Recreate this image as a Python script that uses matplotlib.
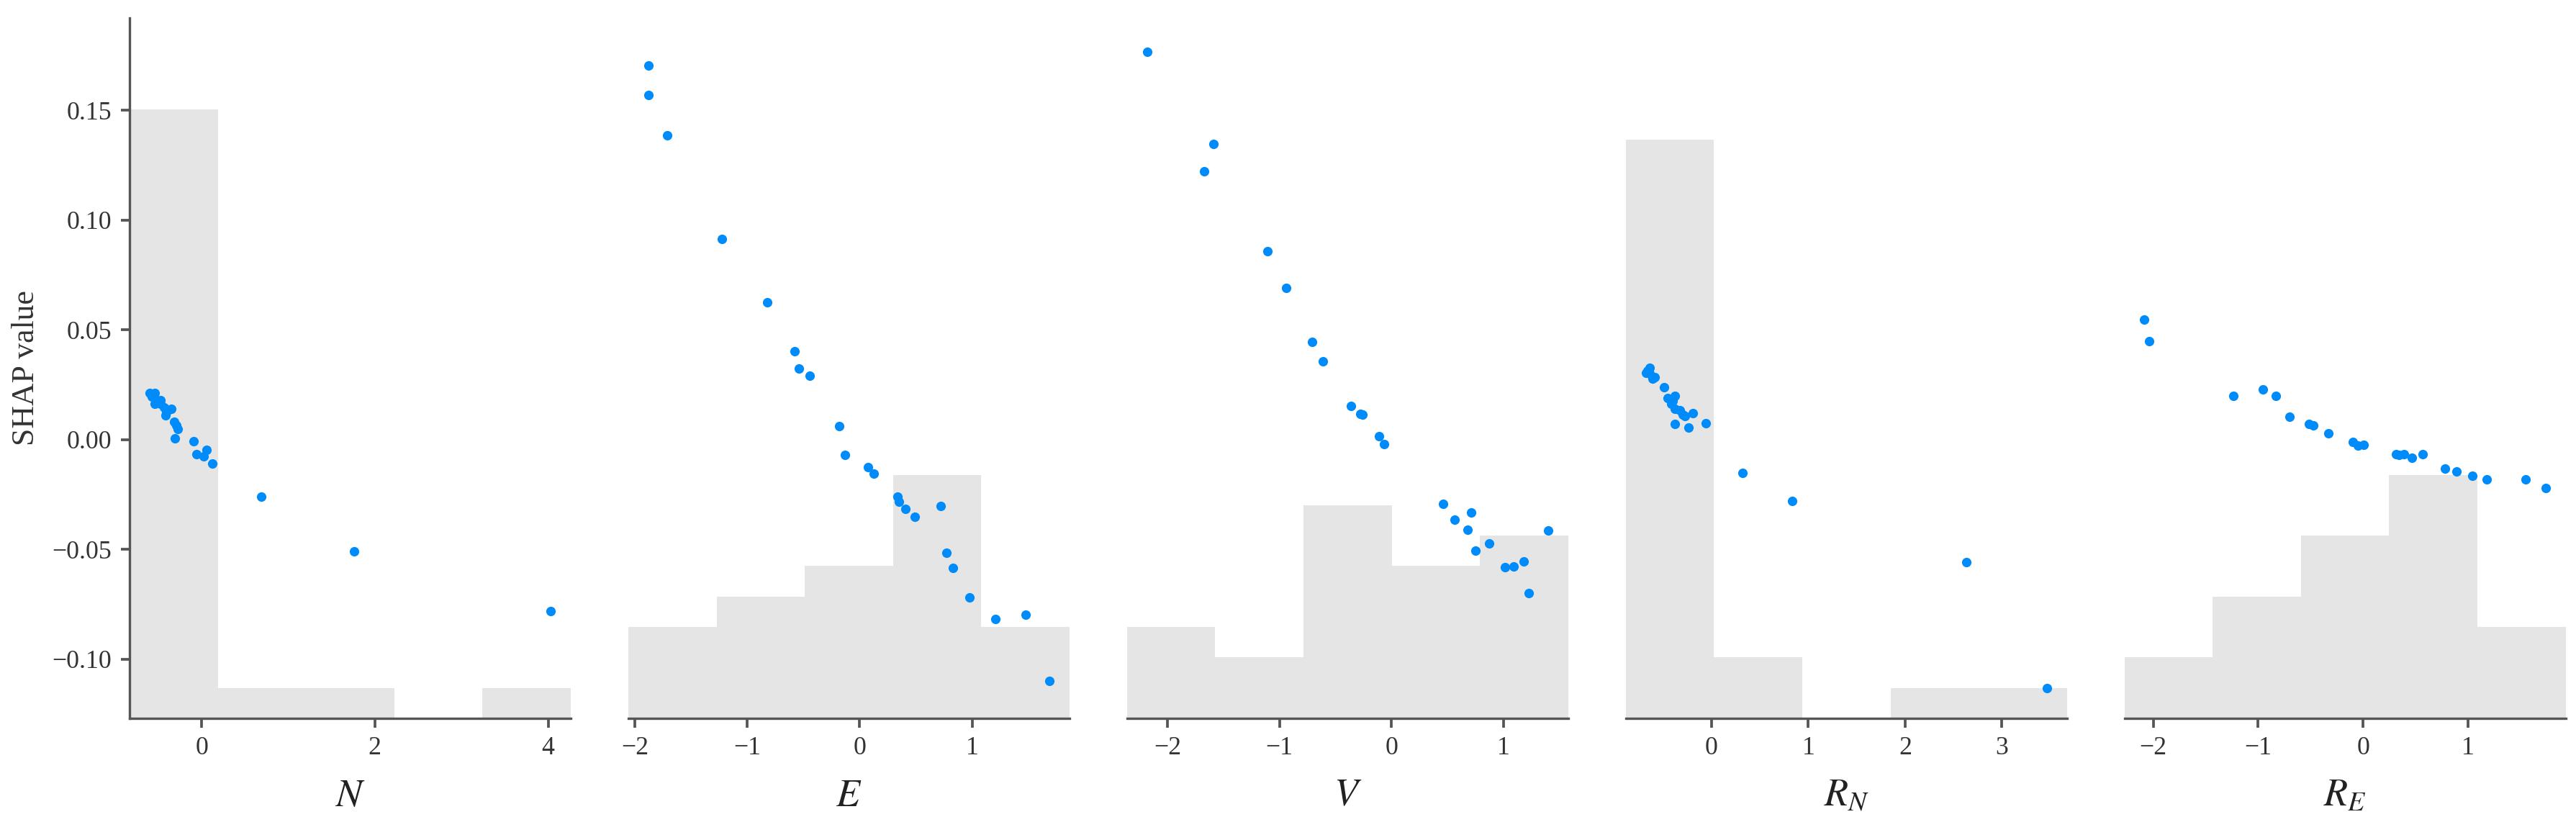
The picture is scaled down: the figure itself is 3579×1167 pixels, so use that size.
import numpy as np
import matplotlib
matplotlib.use("Agg")
import matplotlib.pyplot as plt

plt.rcParams['font.family'] = ['Liberation Serif', 'DejaVu Serif']
plt.rcParams['mathtext.fontset'] = 'stix'

# feature labels
features = ['$N$', '$E$', '$V$', '$R_N$', '$R_E$']

# feature values / SHAP values (23 samples per panel)
n_x = [-0.60, -0.543, -0.571, -0.53, -0.474, -0.543, -0.474, -0.432, -0.349, -0.404,
       -0.418, -0.32, -0.293, -0.279, -0.312, -0.095, -0.056, 0.061, 0.028, 0.125,
       0.69, 1.76, 4.03]
n_shap = [0.0211, 0.0211, 0.0195, 0.0184, 0.0179, 0.0162, 0.0162, 0.0146, 0.0140, 0.0124,
          0.0110, 0.0080, 0.0064, 0.0048, 0.0004, -0.0007, -0.0067, -0.0048, -0.0078, -0.0111,
          -0.0259, -0.0509, -0.078]

e_x = [-1.879, -1.879, -1.712, -1.224, -0.824, -0.576, -0.539, -0.445, -0.182, -0.130,
       0.073, 0.127, 0.339, 0.348, 0.409, 0.491, 0.721, 0.770, 0.830, 0.976,
       1.209, 1.473, 1.688]
e_shap = [0.1704, 0.1569, 0.1384, 0.0914, 0.0626, 0.0403, 0.0323, 0.0289, 0.0061, -0.0071,
          -0.0127, -0.0154, -0.0259, -0.0284, -0.0315, -0.0352, -0.0303, -0.0516, -0.0584, -0.0719,
          -0.0816, -0.0797, -0.1100]

v_x = [-2.182, -1.59, -1.670, -1.106, -0.943, -0.707, -0.612, -0.364, -0.275, -0.257,
       -0.112, -0.068, 0.461, 0.563, 0.711, 0.679, 1.399, 0.752, 0.872, 1.012,
       1.089, 1.182, 1.227]
v_shap = [0.1765, 0.1347, 0.1220, 0.0858, 0.0690, 0.0445, 0.0355, 0.0152, 0.0117, 0.0112,
          0.0015, -0.0020, -0.0293, -0.0364, -0.0332, -0.0411, -0.0413, -0.0507, -0.0474, -0.0581,
          -0.0578, -0.0555, -0.0699]

rn_x = [-0.636, -0.679, -0.636, -0.587, -0.612, -0.487, -0.450, -0.376, -0.413, -0.376,
        -0.327, -0.277, -0.190, -0.381, -0.240, -0.061, -0.66, -0.40, -0.30,
        0.322, 0.837, 2.635, 3.465]
rn_shap = [0.0328, 0.0304, 0.0299, 0.0284, 0.0277, 0.0237, 0.0189, 0.0200, 0.0162, 0.0140,
           0.0132, 0.0107, 0.0119, 0.0072, 0.0053, 0.0075, 0.0315, 0.0175, 0.0115,
           -0.0152, -0.0281, -0.0557, -0.1132]

re_x = [-2.083, -2.037, -1.233, -0.957, -0.828, -0.702, -0.518, -0.475, -0.334, -0.098,
        -0.052, 0.003, 0.316, 0.340, 0.387, 0.463, 0.567, 0.782, 0.887, 1.040,
        1.181, 1.549, 1.739]
re_shap = [0.0545, 0.0447, 0.0198, 0.0227, 0.0198, 0.0103, 0.0071, 0.0064, 0.0029, -0.0012,
           -0.0027, -0.0024, -0.0068, -0.0070, -0.0068, -0.0083, -0.0066, -0.0132, -0.0144, -0.0166,
           -0.0183, -0.0181, -0.0222]

xs = [n_x, e_x, v_x, rn_x, re_x]
ys = [n_shap, e_shap, v_shap, rn_shap, re_shap]

dot_color = '#008bfb'
axis_color = '#555555'

fig = plt.figure(figsize=(3579/300, 1167/300), dpi=300)
left, width, step = 0.0503, 0.1713, 0.1936
bottom, height = 0.1448, 0.8338

for i, (lab, xv, yv) in enumerate(zip(features, xs, ys)):
    ax = fig.add_axes([left + i*step, bottom, width, height])
    xv = np.array(xv)
    lo, hi = xv.min(), xv.max()
    pad = (hi - lo) / 20
    xlim = (lo - pad, hi + pad)

    ax2 = ax.twinx()
    ax2.hist(xv, bins=5, range=xlim, color='black', alpha=0.1, linewidth=0)
    ax2.set_ylim(0, len(xv))
    ax2.set_yticks([])
    for s in ax2.spines.values():
        s.set_visible(False)

    ax.set_zorder(ax2.get_zorder() + 1)
    ax.patch.set_visible(False)
    ax.scatter(xv, yv, s=10, color=dot_color, linewidths=0)
    ax.set_xlim(xlim)
    ax2.set_xlim(xlim)
    ax.set_ylim(-0.127, 0.192)

    ax.spines['top'].set_visible(False)
    ax.spines['right'].set_visible(False)
    ax.spines['bottom'].set_color(axis_color)
    ax.tick_params(axis='x', colors=axis_color, labelcolor='#333333', labelsize=8.6,
                   length=3, width=0.9, pad=3)
    ax.set_xlabel(lab, fontsize=13, color='#222222', labelpad=6)
    if i == 0:
        ax.spines['left'].set_color(axis_color)
        ax.set_yticks([-0.10, -0.05, 0.00, 0.05, 0.10, 0.15])
        ax.set_yticklabels(['\u22120.10', '\u22120.05', '0.00', '0.05', '0.10', '0.15'])
        ax.tick_params(axis='y', colors=axis_color, labelcolor='#333333', labelsize=8.6,
                       length=3, width=0.9, pad=3)
        ax.set_ylabel('SHAP value', fontsize=10.5, color='#333333')
    else:
        ax.spines['left'].set_visible(False)
        ax.set_yticks([])

fig.savefig('out.png', dpi=300)
